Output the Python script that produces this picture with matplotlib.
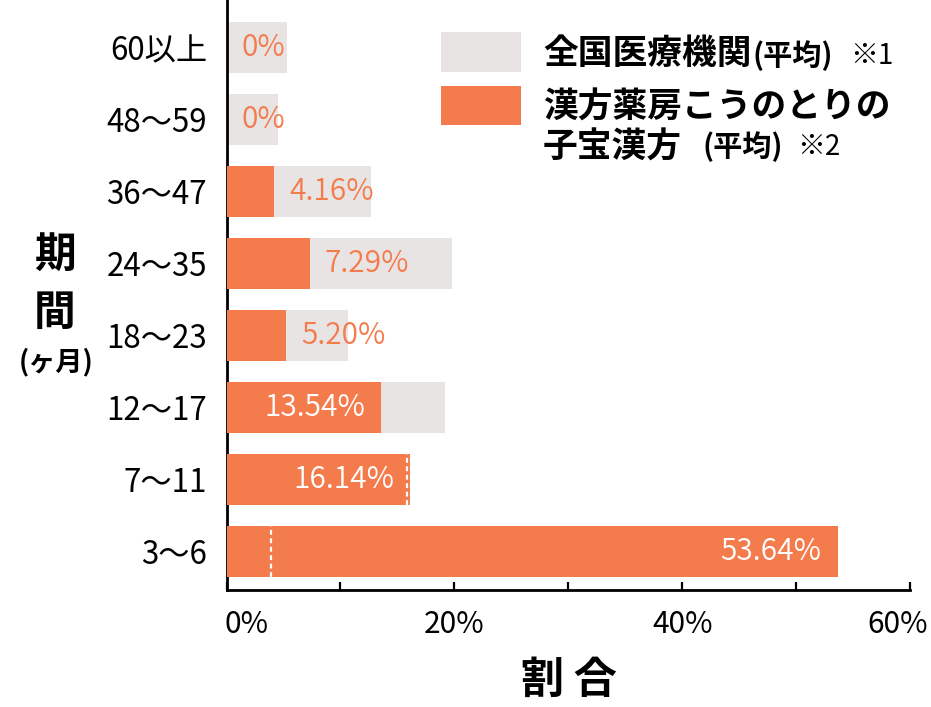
import matplotlib
matplotlib.use("Agg")
import matplotlib.pyplot as plt
import matplotlib.transforms as mtransforms
from matplotlib.patches import Rectangle
import numpy as np

plt.rcParams['font.family'] = ['Noto Sans CJK JP', 'DejaVu Sans']

# ---- data ----
categories = ['60以上', '48～59', '36～47', '24～35', '18～23', '12～17', '7～11', '3～6']
national_avg = [5.3, 4.5, 12.7, 19.8, 10.65, 19.2, 15.86, 3.9]
kounotori_avg = [0.0, 0.0, 4.16, 7.29, 5.20, 13.54, 16.14, 53.64]
value_labels = ['0%', '0%', '4.16%', '7.29%', '5.20%', '13.54%', '16.14%', '53.64%']
xtick_major = [0, 20, 40, 60]
xtick_minor = [10, 30, 50]
xtick_labels = ['0%', '20%', '40%', '60%']

GRAY = '#E8E4E4'
ORANGE = '#F47B4C'

W, H = 931, 707
fig = plt.figure(figsize=(W / 100, H / 100), dpi=100)

def fx(px):
    return px / W

def fy(py):
    return 1 - py / H

ax = fig.add_axes([fx(226.5), fy(590), (910 - 226.5) / W, 590 / H])

n = len(categories)
ypos = np.arange(n)[::-1]
bh = 0.708

ax.barh(ypos, national_avg, height=bh, color=GRAY, zorder=2)
ax.barh(ypos, kounotori_avg, height=bh, color=ORANGE, zorder=3)

# hidden national average markers
for y, g, k in zip(ypos, national_avg, kounotori_avg):
    if g < k:
        ax.plot([g, g], [y - bh / 2, y + bh / 2], color='white', lw=1.6,
                ls=(0, (2.2, 1.6)), zorder=4, solid_capstyle='butt')

# value labels
for y, g, k, lab in zip(ypos, national_avg, kounotori_avg, value_labels):
    if k >= 10:
        ax.annotate(lab, xy=(k, y), xytext=(-11.5, 0), textcoords='offset points',
                    ha='right', va='center', color='white', fontsize=21.5,
                    fontweight=350, zorder=5)
    else:
        ax.annotate(lab, xy=(k, y), xytext=(11, 0), textcoords='offset points',
                    ha='left', va='center', color=ORANGE, fontsize=21.5,
                    fontweight=350, zorder=5)

ax.set_xlim(0, 60)
ax.set_ylim(-0.535, n - 1 + 0.664)

ax.set_yticks(ypos)
ax.set_yticklabels(categories, fontsize=22.5)
ax.tick_params(axis='y', length=0, pad=14)

ax.set_xticks(xtick_major)
ax.set_xticks(xtick_minor, minor=True)
ax.set_xticklabels(xtick_labels, fontsize=21.5)
ax.tick_params(axis='x', which='both', direction='in', length=6, width=1.6, pad=14)

# shift outer tick labels inward as in the reference
tl = ax.get_xticklabels()
tl[0].set_transform(tl[0].get_transform() + mtransforms.ScaledTranslation(20 / 100, 0, fig.dpi_scale_trans))
tl[-1].set_transform(tl[-1].get_transform() + mtransforms.ScaledTranslation(-12 / 100, 0, fig.dpi_scale_trans))

for s in ['top', 'right']:
    ax.spines[s].set_visible(False)
ax.spines['left'].set_linewidth(2)
ax.spines['bottom'].set_linewidth(2)

# axis titles
fig.text(fx(569), fy(680), '割 合', fontsize=31, fontweight='bold', ha='center', va='center')
fig.text(fx(55), fy(255), '期', fontsize=30, fontweight='bold', ha='center', va='center')
fig.text(fx(55), fy(313), '間', fontsize=30, fontweight='bold', ha='center', va='center')
fig.text(fx(56), fy(362), '(ヶ月)', fontsize=19.5, fontweight='bold', ha='center', va='center')

# legend
fig.add_artist(Rectangle((fx(441), fy(72)), 80 / W, 40 / H, transform=fig.transFigure,
                         facecolor=GRAY, edgecolor='none'))
fig.add_artist(Rectangle((fx(441), fy(125)), 80 / W, 39 / H, transform=fig.transFigure,
                         facecolor=ORANGE, edgecolor='none'))

t1 = fig.text(fx(543), fy(53), '全国医療機関', fontsize=25, fontweight='bold', ha='left', va='center')
t1b = ax.annotate('(平均)', xy=(1, 0.5), xycoords=t1, xytext=(1, -2), textcoords='offset points',
                  fontsize=21, fontweight='bold', ha='left', va='center')
ax.annotate('※1', xy=(1, 0.5), xycoords=t1b, xytext=(12, 0), textcoords='offset points',
            fontsize=20, ha='left', va='center')

fig.text(fx(543), fy(107), '漢方薬房こうのとりの', fontsize=25, fontweight='bold', ha='left', va='center')
t3 = fig.text(fx(543), fy(147), '子宝漢方', fontsize=25, fontweight='bold', ha='left', va='center')
t3b = ax.annotate('(平均)', xy=(1, 0.5), xycoords=t3, xytext=(15, 0), textcoords='offset points',
                  fontsize=21, fontweight='bold', ha='left', va='center')
ax.annotate('※2', xy=(1, 0.5), xycoords=t3b, xytext=(10, 0), textcoords='offset points',
            fontsize=20, ha='left', va='center')

fig.savefig('out.png', dpi=100)
